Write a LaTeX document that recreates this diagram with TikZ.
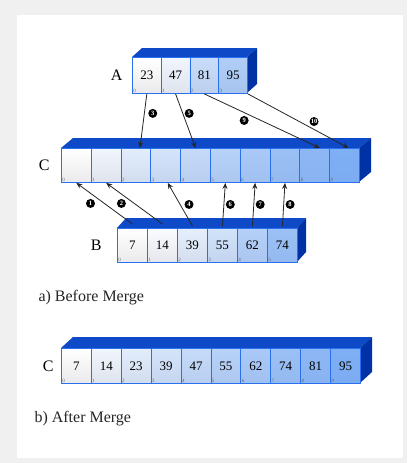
\documentclass[tikz,border=0pt]{standalone}
\usepackage{fontspec}
\setmainfont{Liberation Serif}
\usetikzlibrary{positioning,arrows.meta}

\definecolor{facetop}{RGB}{14,74,200}
\definecolor{faceside}{RGB}{0,50,165}
\definecolor{cellline}{RGB}{40,112,238}
\definecolor{cellblue}{RGB}{112,165,242}
\definecolor{cellpale}{RGB}{234,234,236}

\begin{document}
\begin{tikzpicture}[x=1pt, y=-1pt, >={Stealth[length=6pt, width=5pt]},
  cell/.style={draw=cellline, line width=0.9pt, inner sep=0pt, anchor=north west,
    font=\fontsize{13}{13}\selectfont},
  idx/.style={font=\fontsize{5}{5}\selectfont, text=black!60, anchor=south west, inner sep=1.2pt},
  num/.style={circle, fill=black, text=white, inner sep=0pt, minimum size=9pt,
    font=\fontsize{6.5}{6.5}\selectfont\bfseries},
  arr/.style={->, line width=0.8pt, draw=black!85},
  tag/.style={font=\fontsize{16}{16}\selectfont},
  caption/.style={font=\fontsize{16}{16}\selectfont, anchor=west, text=black!85}]

  % 背景と枠
  \useasboundingbox (0,0) rectangle (407,463);
  \fill[gray!12] (0,0) rectangle (407,463);
  \fill[white] (17,15) rectangle (403,458);

  % 配列 A
  \fill[facetop] (132,57) -- ++(10,-9) -- (257,48) -- (247,57) -- cycle;
  \fill[faceside] (247,57) -- (257,48) -- (257,84) -- (247,93) -- cycle;
  \foreach \v/\p [count=\i from 0] in {23/0, 47/10, 81/38, 95/55}
    \node[cell, minimum width=28.75pt, minimum height=36pt,
      top color=cellblue!\p!white, bottom color=cellblue!\p!cellpale]
      (A\i) at ({132+\i*28.75},57) {\v};
  \foreach \i in {0,...,3}
    \node[idx] at (A\i.south west) {\i};
  \node[tag, left=6pt of A0] (labA) {A};

  % 配列 C (マージ前)
  \fill[facetop] (61,148) -- ++(12,-10) -- (371,138) -- (359,148) -- cycle;
  \fill[faceside] (359,148) -- (371,138) -- (371,172) -- (359,182) -- cycle;
  \foreach \i in {0,...,9} {
    \pgfmathsetmacro\p{\i*10}
    \node[cell, minimum width=29.8pt, minimum height=34pt,
      top color=cellblue!\p!white, bottom color=cellblue!\p!cellpale]
      (C\i) at ({61+\i*29.8},148) {};
    \node[idx] at (C\i.south west) {\i};
  }
  \node[tag, left=8pt of C0] (labC) {C};

  % 配列 B
  \fill[facetop] (117,228) -- ++(9,-10) -- (306,218) -- (297,228) -- cycle;
  \fill[faceside] (297,228) -- (306,218) -- (306,252) -- (297,262) -- cycle;
  \foreach \v/\p [count=\i from 0] in {7/0, 14/4, 39/18, 55/32, 62/52, 74/70}
    \node[cell, minimum width=30pt, minimum height=34pt,
      top color=cellblue!\p!white, bottom color=cellblue!\p!cellpale]
      (B\i) at ({117+\i*30},228) {\v};
  \foreach \i in {0,...,5}
    \node[idx] at (B\i.south west) {\i};
  \node[tag, left=12pt of B0] (labB) {B};

  % A から C への矢印
  \draw[arr] (A0.south) -- ([xshift=4pt]C2.north) node[num, pos=0.36, right=3.5pt] {3};
  \draw[arr] (A1.south) -- (C4.north) node[num, pos=0.36, right=1.5pt] {5};
  \draw[arr] (A2.south) -- ([xshift=5pt]C8.north) node[num, pos=0.345, below=3pt] {9};
  \draw[arr] (A3.south east) -- ([xshift=4pt]C9.north) node[num, pos=0.657, above=3pt] {10};

  % B から C への矢印
  \draw[arr] ([yshift=4pt]B0.north) -- (C0.south) node[num, pos=0.5, left=9pt] {1};
  \draw[arr] ([yshift=4pt]B1.north) -- (C1.south) node[num, pos=0.5, left=8pt] {2};
  \draw[arr] ([yshift=2pt]B2.north) -- ([xshift=2pt]C3.south) node[num, pos=0.5, right=4pt] {4};
  \draw[arr] ([yshift=2pt]B3.north) -- (C5.south) node[num, pos=0.5, right=1.5pt] {6};
  \draw[arr] ([yshift=2pt]B4.north) -- (C6.south) node[num, pos=0.5, right=1.5pt] {7};
  \draw[arr] ([yshift=2pt]B5.north) -- (C7.south) node[num, pos=0.5, right=1.5pt] {8};

  \node[caption] (before) at (35,298) {a) Before Merge};

  % 配列 C (マージ後)
  \fill[facetop] (61,348) -- ++(12,-11) -- (372,337) -- (360,348) -- cycle;
  \fill[faceside] (360,348) -- (372,337) -- (372,372) -- (360,383) -- cycle;
  \foreach \v [count=\i from 0] in {7,14,23,39,47,55,62,74,81,95} {
    \pgfmathsetmacro\p{\i*10}
    \node[cell, minimum width=29.9pt, minimum height=35pt,
      top color=cellblue!\p!white, bottom color=cellblue!\p!cellpale]
      (D\i) at ({61+\i*29.9},348) {\v};
    \node[idx] at (D\i.south west) {\i};
  }
  \node[tag, left=4pt of D0] (labD) {C};

  \node[caption] (after) at (31,419) {b) After Merge};

\end{tikzpicture}
\end{document}
